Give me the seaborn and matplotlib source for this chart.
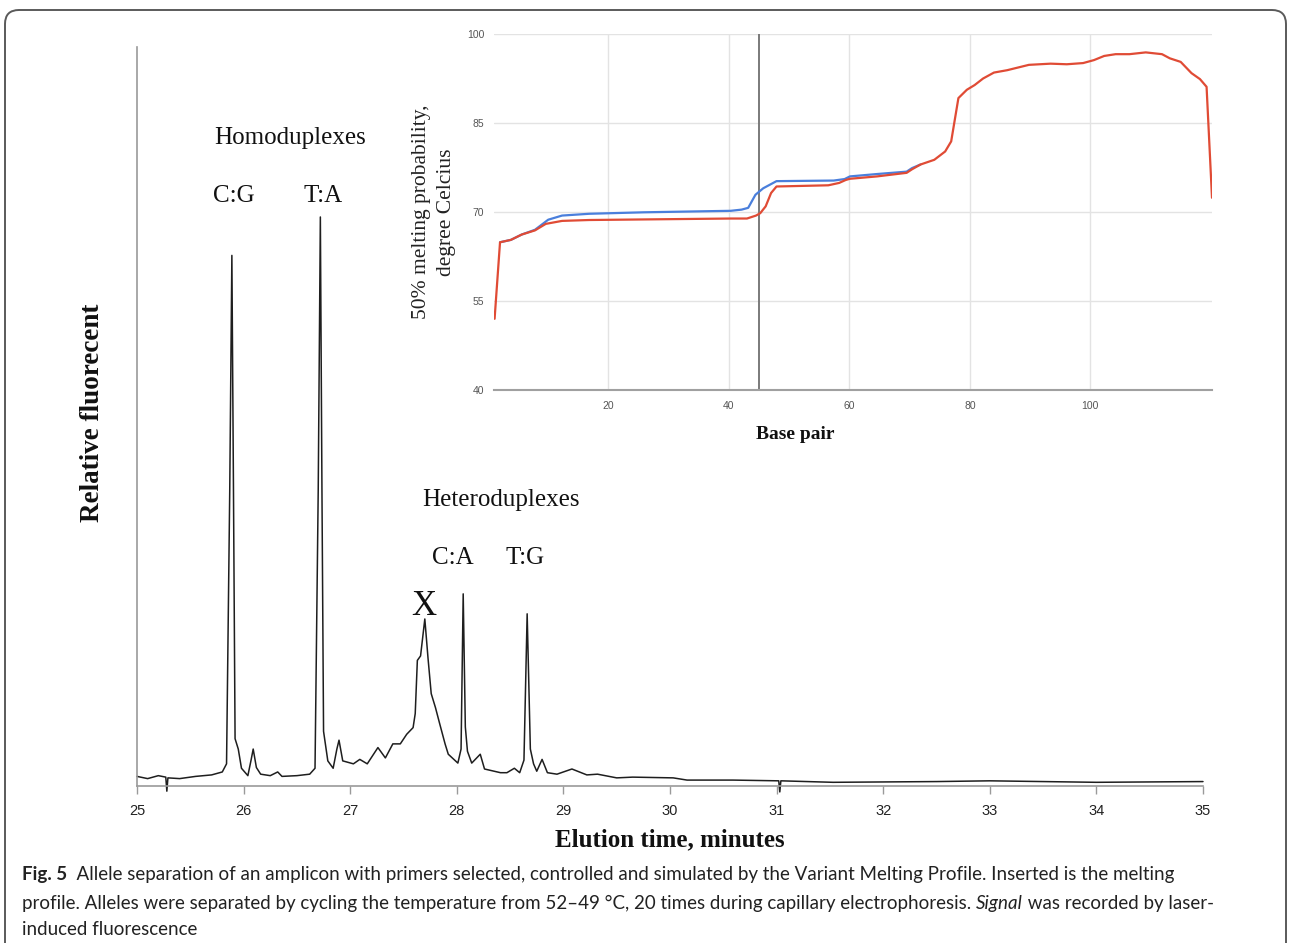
import matplotlib
matplotlib.use("Agg")
import matplotlib.pyplot as plt
import matplotlib.transforms as mtransforms
from matplotlib.patches import FancyBboxPatch
import seaborn as sns
import pandas as pd
import logging
logging.getLogger("matplotlib.font_manager").setLevel(logging.ERROR)

# ---------------- data: electropherogram ----------------
time_min = [25.00, 25.10, 25.20, 25.27, 25.28, 25.29, 25.40, 25.55, 25.70, 25.80,
            25.84, 25.87, 25.89, 25.905, 25.92, 25.95, 25.98, 26.04, 26.07, 26.09,
            26.12, 26.16, 26.25, 26.32, 26.36, 26.50, 26.62, 26.67, 26.70, 26.72,
            26.735, 26.75, 26.79, 26.84, 26.875, 26.895, 26.93, 27.03, 27.09, 27.16,
            27.26, 27.33, 27.40, 27.47, 27.53, 27.59, 27.61, 27.63, 27.66, 27.70,
            27.73, 27.76, 27.80, 27.84, 27.89, 27.92, 28.01, 28.04, 28.06, 28.08,
            28.10, 28.14, 28.22, 28.26, 28.41, 28.47, 28.54, 28.59, 28.63, 28.66,
            28.69, 28.72, 28.75, 28.80, 28.85, 28.94, 29.08, 29.22, 29.32, 29.50,
            29.65, 30.03, 30.16, 30.59, 31.02, 31.03, 31.04, 31.53, 32.50, 33.00,
            34.00, 35.00]
signal = [1.3, 1.0, 1.4, 1.2, -0.7, 1.1, 1.0, 1.3, 1.5, 1.9,
          3.0, 40.0, 71.8, 40.0, 6.4, 5.0, 2.4, 1.4, 3.5, 5.0,
          2.5, 1.6, 1.4, 1.9, 1.3, 1.4, 1.6, 2.4, 40.0, 77.0,
          40.0, 7.4, 3.4, 2.4, 5.0, 6.2, 3.4, 3.0, 3.6, 3.0,
          5.2, 3.8, 5.7, 5.7, 7.0, 7.9, 9.8, 17.0, 17.6, 22.6,
          17.3, 12.5, 10.6, 8.4, 5.7, 4.3, 3.1, 5.0, 26.0, 8.0,
          4.7, 3.1, 4.3, 2.3, 1.8, 1.8, 2.4, 1.8, 3.5, 23.3,
          5.0, 3.0, 2.0, 3.6, 1.8, 1.6, 2.3, 1.5, 1.6, 1.1,
          1.2, 1.1, 0.8, 0.8, 0.7, -0.8, 0.7, 0.5, 0.6, 0.7,
          0.5, 0.6]
main_xticks = [25, 26, 27, 28, 29, 30, 31, 32, 33, 34, 35]

peak_labels = ["C:G", "T:A", "C:A", "T:G"]
peak_label_x = [25.91, 26.75, 27.96, 28.64]
peak_label_y = [79.8, 79.8, 30.9, 30.9]
group_labels = ["Homoduplexes", "Heteroduplexes"]
group_label_x = [26.44, 28.41]
group_label_y = [87.7, 38.7]

# ---------------- data: melting profile (inset) ----------------
bp_red = [1.1, 2.0, 3.8, 5.6, 7.8, 9.6, 12.3, 16.8, 40.3, 43.0, 44.5, 45.2, 46.1,
          47.0, 47.9, 56.5, 58.3, 59.4, 60.1, 64.6, 69.5, 70.4, 71.8, 74.1, 75.9,
          76.9, 78.1, 79.5, 80.8, 82.2, 84.0, 86.2, 89.8, 93.4, 96.1, 98.8, 100.6,
          102.3, 104.2, 106.5, 109.2, 111.9, 113.2, 115.0, 116.8, 118.2, 119.3, 120.2]
tm_red = [52.0, 64.9, 65.3, 66.2, 66.9, 68.0, 68.5, 68.65, 68.9, 68.9, 69.4, 69.8, 70.95,
          73.2, 74.3, 74.5, 74.9, 75.4, 75.6, 76.0, 76.6, 77.2, 78.0, 78.8, 80.2,
          81.9, 89.2, 90.6, 91.4, 92.5, 93.5, 93.9, 94.8, 95.0, 94.9, 95.1, 95.6,
          96.3, 96.6, 96.6, 96.9, 96.6, 95.9, 95.3, 93.4, 92.4, 91.1, 72.4]
bp_blue = [2.0, 3.8, 5.6, 7.8, 10.0, 12.3, 16.8, 25.9, 40.3, 42.1, 43.2, 44.4, 45.7,
           47.9, 57.4, 59.2, 60.1, 64.6, 69.5, 70.4, 71.8]
tm_blue = [64.9, 65.3, 66.2, 67.0, 68.7, 69.4, 69.7, 69.95, 70.2, 70.4, 70.7, 72.9, 74.0,
           75.2, 75.3, 75.55, 76.0, 76.4, 76.8, 77.4, 78.0]
inset_xticks = [20, 40, 60, 80, 100]
inset_yticks = [40, 55, 70, 85, 100]
marker_bp = 45

caption_lines = [
    [("Fig. 5", "bold", "normal"),
     ("  Allele separation of an amplicon with primers selected, controlled and simulated by the Variant Melting Profile. Inserted is the melting", "normal", "normal")],
    [("profile. Alleles were separated by cycling the temperature from 52\u201349 \u00b0C, 20 times during capillary electrophoresis. ", "normal", "normal"),
     ("Signal", "normal", "italic"),
     (" was recorded by laser-", "normal", "normal")],
    [("induced fluorescence", "normal", "normal")],
]

# ---------------- figure ----------------
sns.set_theme(style="white")
plt.rcParams["font.family"] = ["Liberation Serif", "DejaVu Serif"]
SERIF = ["Liberation Serif", "DejaVu Serif"]
NARROW = ["Liberation Sans Narrow", "Liberation Sans", "DejaVu Sans"]
CAPFONT = ["Lato", "DejaVu Sans"]

W, H = 1290, 943
fig = plt.figure(figsize=(W / 100, H / 100), dpi=100)
fig.patch.set_facecolor("white")

def fx(px):
    return px / W

def fy(py):
    return 1 - py / H

# main axes
ax = fig.add_axes([fx(137), fy(786), fx(1203) - fx(137), fy(47) - fy(786)])
df_main = pd.DataFrame({"t": time_min, "s": signal})
sns.lineplot(data=df_main, x="t", y="s", ax=ax, color="#1e1e1e", linewidth=1.1,
             estimator=None, sort=False, clip_on=False)
ax.set_xlim(25, 35)
ax.set_ylim(0, 100)
ax.set_xticks(main_xticks)
ax.set_xticklabels([str(v) for v in main_xticks], fontfamily=NARROW, fontsize=10.5, color="#222222")
ax.set_yticks([])
ax.tick_params(axis="x", direction="out", length=6, width=1, color="#9a9a9a", pad=7, bottom=True)
for side in ["top", "right"]:
    ax.spines[side].set_visible(False)
for side in ["left", "bottom"]:
    ax.spines[side].set_color("#9a9a9a")
    ax.spines[side].set_linewidth(1.2)
ax.set_xlabel("")
ax.set_ylabel("")
ax.text(0.5, -0.073, "Elution time, minutes", transform=ax.transAxes, ha="center", va="center",
        fontfamily=SERIF, fontweight="bold", fontsize=18, color="#111111")
ax.text(-0.0413, 0.505, "Relative fluorecent", transform=ax.transAxes, ha="center", va="center",
        rotation=90, fontfamily=SERIF, fontweight="bold", fontsize=19.5, color="#111111")
for lab, x, y in zip(group_labels, group_label_x, group_label_y):
    ax.text(x, y, lab, ha="center", va="center", fontfamily=SERIF, fontsize=18, color="#111111")
for lab, x, y in zip(peak_labels, peak_label_x, peak_label_y):
    ax.text(x, y, lab, ha="center", va="center", fontfamily=SERIF, fontsize=18, color="#111111")
ax.text(27.69, 24.3, "X", ha="center", va="center", fontfamily=SERIF, fontsize=25, color="#111111")

# inset axes
axi = fig.add_axes([fx(494), fy(390), fx(1212) - fx(494), fy(34) - fy(390)])
axi.set_zorder(3)
axi.set_facecolor("white")
sns.lineplot(x=bp_blue, y=tm_blue, ax=axi, color="#4a7fdc", linewidth=1.6, estimator=None, sort=False)
sns.lineplot(x=bp_red, y=tm_red, ax=axi, color="#e04b35", linewidth=1.6, estimator=None, sort=False)
axi.set_xlim(1, 120.2)
axi.set_ylim(40, 100)
axi.set_xticks(inset_xticks)
axi.set_yticks(inset_yticks)
axi.set_xticklabels([str(v) for v in inset_xticks], fontfamily=NARROW, fontsize=7.5, color="#555555")
axi.set_yticklabels([str(v) for v in inset_yticks], fontfamily=NARROW, fontsize=7.5, color="#555555")
axi.tick_params(axis="both", length=0)
axi.tick_params(axis="x", pad=8)
axi.tick_params(axis="y", pad=7)
axi.grid(True, color="#e3e3e3", linewidth=1.0)
axi.set_axisbelow(True)
for side in ["top", "right", "left"]:
    axi.spines[side].set_visible(False)
axi.spines["bottom"].set_color("#a0a0a0")
axi.spines["bottom"].set_linewidth(1.5)
axi.axvline(marker_bp, color="#7a7a7a", linewidth=1.4, zorder=1)
axi.set_xlabel("")
axi.set_ylabel("")
axi.text(0.42, -0.126, "Base pair", transform=axi.transAxes, ha="center", va="center",
         fontfamily=SERIF, fontweight="bold", fontsize=14, color="#111111")
axi.text(-0.0836, 0.5, "50% melting probability,\ndegree Celcius", transform=axi.transAxes,
         ha="center", va="center", rotation=90, fontfamily=SERIF, fontsize=15.5,
         color="#222222", linespacing=1.4)

# frame
frame = FancyBboxPatch((5, -30), 1281, H - 10 + 30,
                       boxstyle="round,pad=0,rounding_size=14",
                       transform=mtransforms.IdentityTransform(),
                       facecolor="none", edgecolor="#5a5a5a", linewidth=1.4)
fig.add_artist(frame)

# caption
renderer = fig.canvas.get_renderer()
ident = mtransforms.IdentityTransform()

def run_width(txt, weight, style, size):
    t1 = fig.text(0, 0, "|" + txt + "|", fontfamily=CAPFONT, fontsize=size,
                  fontweight=weight, fontstyle=style, transform=ident)
    t2 = fig.text(0, 0, "||", fontfamily=CAPFONT, fontsize=size,
                  fontweight=weight, fontstyle=style, transform=ident)
    w = t1.get_window_extent(renderer).width - t2.get_window_extent(renderer).width
    t1.remove()
    t2.remove()
    return w

base_size = 12
line_widths = [sum(run_width(t, wt, st, base_size) for t, wt, st in line)
               for line in caption_lines[:2]]
cap_size = base_size * (1210 - 22) / max(line_widths)
baselines = [880, 909, 935]
for runs, by in zip(caption_lines, baselines):
    x = 22
    for txt, wt, st in runs:
        fig.text(x, H - by, txt, fontfamily=CAPFONT, fontsize=cap_size, fontweight=wt,
                 fontstyle=st, color="#222222", transform=ident, va="baseline", ha="left")
        x += run_width(txt, wt, st, cap_size)

fig.savefig("out.png", dpi=100)
